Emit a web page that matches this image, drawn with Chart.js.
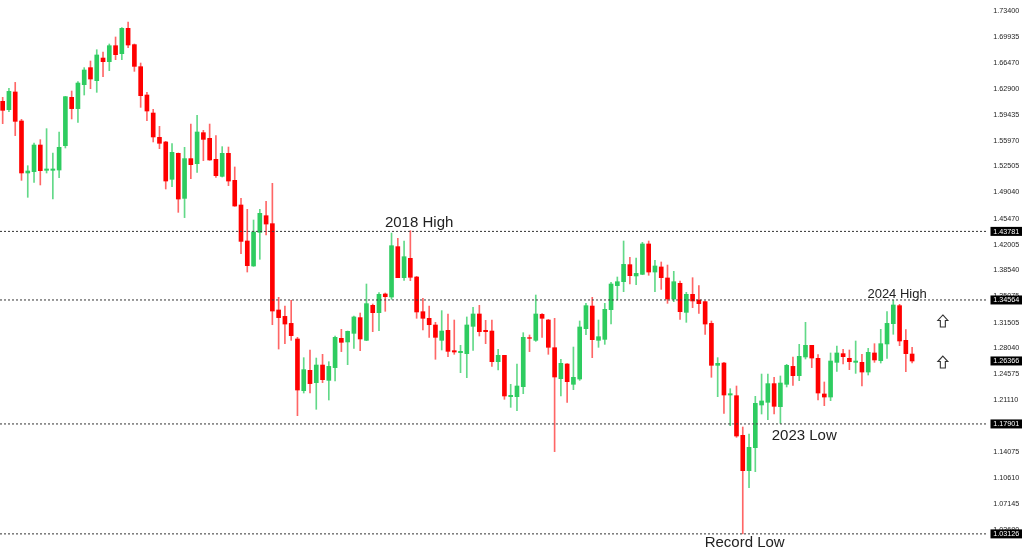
<!DOCTYPE html>
<html>
<head>
<meta charset="utf-8">
<title>Candlestick chart</title>
<script src="https://cdn.jsdelivr.net/npm/chart.js@4"></script>
<style>
    html, body { margin: 0; padding: 0; background: #fff; }
    canvas { display: block; }
</style>
</head>
<body>
<canvas id="chart" width="1024" height="550"></canvas>
<script>
// Candle values
const opens = [
    1.6126, 1.6014, 1.6252, 1.5862, 1.5163, 1.5181, 1.5539, 1.5199, 1.5199, 1.5203,
    1.5530, 1.6180, 1.6028, 1.6350, 1.6579, 1.6404, 1.6708, 1.6659, 1.6874, 1.6767,
    1.7107, 1.6888, 1.6592, 1.6211, 1.5969, 1.5642, 1.5580, 1.5078, 1.5427, 1.4822,
    1.5356, 1.5288, 1.5705, 1.5629, 1.5347, 1.5118, 1.5427, 1.5064, 1.4733, 1.4249,
    1.3913, 1.4365, 1.4589, 1.4482, 1.3322, 1.3236, 1.3142, 1.2932, 1.2237, 1.2511,
    1.2345, 1.2582, 1.2376, 1.2547, 1.2941, 1.2892, 1.3008, 1.3219, 1.2914, 1.3384,
    1.3286, 1.3537, 1.3496, 1.4173, 1.3756, 1.4016, 1.3765, 1.3299, 1.3210, 1.3120,
    1.2914, 1.3048, 1.2775, 1.2748, 1.2735, 1.3102, 1.3268, 1.3048, 1.3039, 1.2627,
    1.2712, 1.2157, 1.2157, 1.2291, 1.2950, 1.2914, 1.3263, 1.3187, 1.2815, 1.2399,
    1.2596, 1.2323, 1.2394, 1.3071, 1.3375, 1.2914, 1.2927, 1.3326, 1.3649, 1.3702,
    1.3931, 1.3779, 1.3801, 1.4209, 1.3832, 1.3900, 1.3752, 1.3469, 1.3680, 1.3290,
    1.3532, 1.3456, 1.3434, 1.3142, 1.2578, 1.2609, 1.2179, 1.2170, 1.1637, 1.1162,
    1.1471, 1.2045, 1.2081, 1.2332, 1.2022, 1.2323, 1.2564, 1.2439, 1.2690, 1.2847,
    1.2672, 1.2193, 1.2152, 1.2618, 1.2735, 1.2672, 1.2618, 1.2618, 1.2488, 1.2744,
    1.2641, 1.2865, 1.3138, 1.3380, 1.2914, 1.2730
];
const closes = [
    1.6005, 1.6260, 1.5857, 1.5163, 1.5190, 1.5539, 1.5194, 1.5217, 1.5217, 1.5508,
    1.6189, 1.6028, 1.6372, 1.6547, 1.6426, 1.6749, 1.6659, 1.6874, 1.6753, 1.7107,
    1.6883, 1.6596, 1.6202, 1.5996, 1.5647, 1.5562, 1.5055, 1.5441, 1.4813, 1.5356,
    1.5275, 1.5714, 1.5615, 1.5338, 1.5127, 1.5427, 1.5055, 1.4719, 1.4244, 1.3917,
    1.4370, 1.4621, 1.4477, 1.3308, 1.3219, 1.3133, 1.2977, 1.2246, 1.2520, 1.2332,
    1.2582, 1.2385, 1.2564, 1.2954, 1.2887, 1.3035, 1.3228, 1.2932, 1.3407, 1.3286,
    1.3532, 1.3501, 1.4186, 1.3756, 1.4038, 1.3761, 1.3295, 1.3210, 1.3124, 1.2954,
    1.3039, 1.2766, 1.2757, 1.2766, 1.3120, 1.3268, 1.3030, 1.3030, 1.2627, 1.2712,
    1.2166, 1.2175, 1.2300, 1.2954, 1.2941, 1.3268, 1.3210, 1.2820, 1.2421, 1.2605,
    1.2358, 1.2417, 1.3093, 1.3380, 1.2923, 1.2963, 1.3331, 1.3671, 1.3702, 1.3935,
    1.3783, 1.3814, 1.4209, 1.3832, 1.3913, 1.3756, 1.3469, 1.3702, 1.3299, 1.3532,
    1.3443, 1.3407, 1.3133, 1.2578, 1.2605, 1.2179, 1.2197, 1.1628, 1.1162, 1.1476,
    1.2067, 1.2099, 1.2332, 1.2027, 1.2340, 1.2578, 1.2439, 1.2699, 1.2847, 1.2676,
    1.2206, 1.2152, 1.2636, 1.2744, 1.2694, 1.2627, 1.2636, 1.2488, 1.2753, 1.2650,
    1.2869, 1.3142, 1.3389, 1.2905, 1.2735, 1.2636
];
const highs = [
    1.6180, 1.6301, 1.6381, 1.5884, 1.5261, 1.5566, 1.5611, 1.5759, 1.5432, 1.5714,
    1.6193, 1.6265, 1.6390, 1.6579, 1.6668, 1.6820, 1.6789, 1.6897, 1.6991, 1.7116,
    1.7192, 1.6897, 1.6641, 1.6247, 1.6019, 1.5790, 1.5588, 1.5557, 1.5432, 1.5508,
    1.5821, 1.5938, 1.5736, 1.5821, 1.5665, 1.5517, 1.5512, 1.5244, 1.4822, 1.4675,
    1.4531, 1.4675, 1.4782, 1.5024, 1.3492, 1.3375, 1.3452, 1.2954, 1.2681, 1.2784,
    1.2676, 1.2726, 1.2627, 1.2972, 1.3062, 1.3039, 1.3241, 1.3281, 1.3671, 1.3402,
    1.3555, 1.3550, 1.4356, 1.4285, 1.4249, 1.4388, 1.3774, 1.3478, 1.3375, 1.3156,
    1.3313, 1.3268, 1.3187, 1.2847, 1.3228, 1.3357, 1.3384, 1.3183, 1.3187, 1.2793,
    1.2712, 1.2323, 1.2596, 1.3017, 1.2986, 1.3523, 1.3272, 1.3196, 1.3210, 1.2659,
    1.2600, 1.2824, 1.3174, 1.3411, 1.3492, 1.3187, 1.3411, 1.3693, 1.3765, 1.4249,
    1.4029, 1.4020, 1.4231, 1.4249, 1.3989, 1.3967, 1.3926, 1.3841, 1.3711, 1.3559,
    1.3756, 1.3649, 1.3443, 1.3174, 1.2681, 1.2618, 1.2264, 1.2300, 1.1749, 1.1655,
    1.2161, 1.2461, 1.2461, 1.2417, 1.2435, 1.2591, 1.2690, 1.2860, 1.3156, 1.2847,
    1.2721, 1.2354, 1.2744, 1.2838, 1.2793, 1.2784, 1.2905, 1.2726, 1.2806, 1.2869,
    1.3062, 1.3299, 1.3456, 1.3398, 1.3057, 1.2820
];
const lows = [
    1.5826, 1.5987, 1.5665, 1.5064, 1.4836, 1.5037, 1.5002, 1.5163, 1.4813, 1.5100,
    1.5499, 1.5889, 1.5844, 1.6211, 1.6296, 1.6247, 1.6458, 1.6538, 1.6686, 1.6686,
    1.6847, 1.6529, 1.6045, 1.5866, 1.5580, 1.5490, 1.4948, 1.4979, 1.4634, 1.4563,
    1.5087, 1.5172, 1.5329, 1.5333, 1.5105, 1.5109, 1.4993, 1.4715, 1.4079, 1.3832,
    1.3908, 1.4003, 1.4330, 1.3124, 1.2797, 1.2869, 1.2914, 1.1901, 1.2206, 1.2206,
    1.1987, 1.2345, 1.2112, 1.2367, 1.2762, 1.2587, 1.2806, 1.2775, 1.2909, 1.3030,
    1.3044, 1.3304, 1.3465, 1.3756, 1.3720, 1.3716, 1.3210, 1.3053, 1.2954, 1.2659,
    1.2784, 1.2694, 1.2726, 1.2479, 1.2412, 1.2780, 1.2972, 1.2869, 1.2564, 1.2515,
    1.2121, 1.2013, 1.1969, 1.2197, 1.2762, 1.2900, 1.2954, 1.2726, 1.1418, 1.2166,
    1.2081, 1.2251, 1.2376, 1.2990, 1.2681, 1.2820, 1.2860, 1.3133, 1.3456, 1.3568,
    1.3671, 1.3662, 1.3796, 1.3788, 1.3568, 1.3599, 1.3411, 1.3434, 1.3196, 1.3156,
    1.3353, 1.3277, 1.2995, 1.2417, 1.2157, 1.1933, 1.1767, 1.1610, 1.0313, 1.0934,
    1.1149, 1.1924, 1.1848, 1.1924, 1.1798, 1.2287, 1.2309, 1.2372, 1.2663, 1.2547,
    1.2112, 1.2036, 1.2103, 1.2497, 1.2596, 1.2520, 1.2470, 1.2300, 1.2448, 1.2618,
    1.2609, 1.2672, 1.2995, 1.2842, 1.2493, 1.2609
];

// Price axis labels
const tickValues = [
    1.73400, 1.69935, 1.66470, 1.62900, 1.59435, 1.55970, 1.52505, 1.49040, 1.45470, 1.42005, 1.38540,
    1.35075, 1.31505, 1.28040, 1.24575, 1.21110, 1.17645, 1.14075, 1.10610, 1.07145, 1.03680
];

// Horizontal levels and the last price, each with a black tag on the axis
const levels = [1.43781, 1.34564, 1.17901, 1.03126];
const lastPrice = 1.26366;

// Notes on the chart: candle index, price, text
const noteTexts = ['2018 High', '2024 High', '2023 Low', 'Record Low'];
const noteIndex = [66.4, 142.6, 127.8, 118.3];
const notePrice = [1.4490, 1.3537, 1.1628, 1.0194];
const noteSizes = [15, 13, 15, 15];

// Arrows to the right of the last candle
const arrowIndex = [149.9, 149.9];
const arrowPrice = [1.3174, 1.2622];

const GREEN = '#2ecc60';
const RED = '#ff0000';
const X_MIN = -0.426;
const X_MAX = 157.1;

const candleColors = opens.map((o, i) => (closes[i] >= o ? GREEN : RED));
const wickColors = opens.map((o, i) => (closes[i] >= o ? 'rgba(46, 204, 96, 0.75)' : 'rgba(255, 0, 0, 0.6)'));

// Outlined up arrow centred on a point
function drawUpArrow(ctx, cx, cy) {
    ctx.beginPath();
    ctx.moveTo(cx, cy - 6);
    ctx.lineTo(cx + 5, cy - 0.5);
    ctx.lineTo(cx + 2.5, cy - 0.5);
    ctx.lineTo(cx + 2.5, cy + 6);
    ctx.lineTo(cx - 2.5, cy + 6);
    ctx.lineTo(cx - 2.5, cy - 0.5);
    ctx.lineTo(cx - 5, cy - 0.5);
    ctx.closePath();
    ctx.stroke();
}

// Tags and text go on top of everything, placed through the scales
const overlayPlugin = {
    id: 'overlay',
    afterDraw(chart) {
        const ctx = chart.ctx;
        const x = chart.scales.x;
        const y = chart.scales.y;
        ctx.save();

        // Axis tags
        ctx.textAlign = 'left';
        ctx.textBaseline = 'middle';
        ctx.font = '7.2px "Liberation Sans"';
        levels.concat(lastPrice).forEach(v => {
            const py = y.getPixelForValue(v);
            ctx.fillStyle = '#000';
            ctx.fillRect(990.5, py - 4.5, 31.5, 9);
            ctx.fillStyle = '#fff';
            ctx.fillText(v.toFixed(5), 993.3, py + 0.5);
        });

        // Notes
        ctx.textAlign = 'center';
        ctx.fillStyle = '#222';
        noteTexts.forEach((t, i) => {
            ctx.font = noteSizes[i] + 'px "Liberation Sans"';
            ctx.fillText(t, x.getPixelForValue(noteIndex[i]), y.getPixelForValue(notePrice[i]));
        });

        // Arrows
        ctx.strokeStyle = '#333';
        ctx.lineWidth = 1.1;
        arrowPrice.forEach((p, i) => {
            drawUpArrow(ctx, x.getPixelForValue(arrowIndex[i]), y.getPixelForValue(p));
        });
        ctx.restore();
    }
};

const indexes = opens.map((o, i) => i);

const datasets = [
    {
        // Candle bodies
        label: 'Body',
        data: indexes.map(i => ({ x: i, y: [opens[i], closes[i]] })),
        backgroundColor: candleColors,
        barThickness: 4,
        grouped: false,
        order: 1
    },
    {
        // Candle wicks
        label: 'Wick',
        data: indexes.map(i => ({ x: i, y: [lows[i], highs[i]] })),
        backgroundColor: wickColors,
        barThickness: 1,
        grouped: false,
        order: 2
    }
].concat(levels.map(v => ({
    type: 'line',
    label: 'Level',
    data: [{ x: X_MIN, y: v }, { x: X_MAX, y: v }],
    borderColor: '#333',
    borderWidth: 1,
    borderDash: [2, 2],
    pointRadius: 0,
    order: 0
})));

new Chart(document.getElementById('chart'), {
    type: 'bar',
    data: { datasets: datasets },
    options: {
        responsive: false,
        animation: false,
        devicePixelRatio: 1,
        layout: { padding: 0 },
        plugins: {
            legend: { display: false },
            tooltip: { enabled: false }
        },
        scales: {
            x: {
                type: 'linear',
                display: false,
                offset: false,
                min: X_MIN,
                max: X_MAX
            },
            y: {
                position: 'right',
                min: 1.0096,
                max: 1.7488,
                grid: { display: false, drawTicks: false },
                border: { display: false },
                afterBuildTicks(scale) {
                    scale.ticks = tickValues.map(v => ({ value: v }));
                },
                afterFit(scale) {
                    // Full height plot, no room kept for half a label
                    scale.width = 36;
                    scale.paddingTop = 0;
                    scale.paddingBottom = 0;
                },
                ticks: {
                    autoSkip: false,
                    padding: 5.3,
                    color: '#222',
                    font: { family: '"Liberation Sans"', size: 7.2 },
                    callback: value => value.toFixed(5)
                }
            }
        }
    },
    plugins: [overlayPlugin]
});
</script>
</body>
</html>
